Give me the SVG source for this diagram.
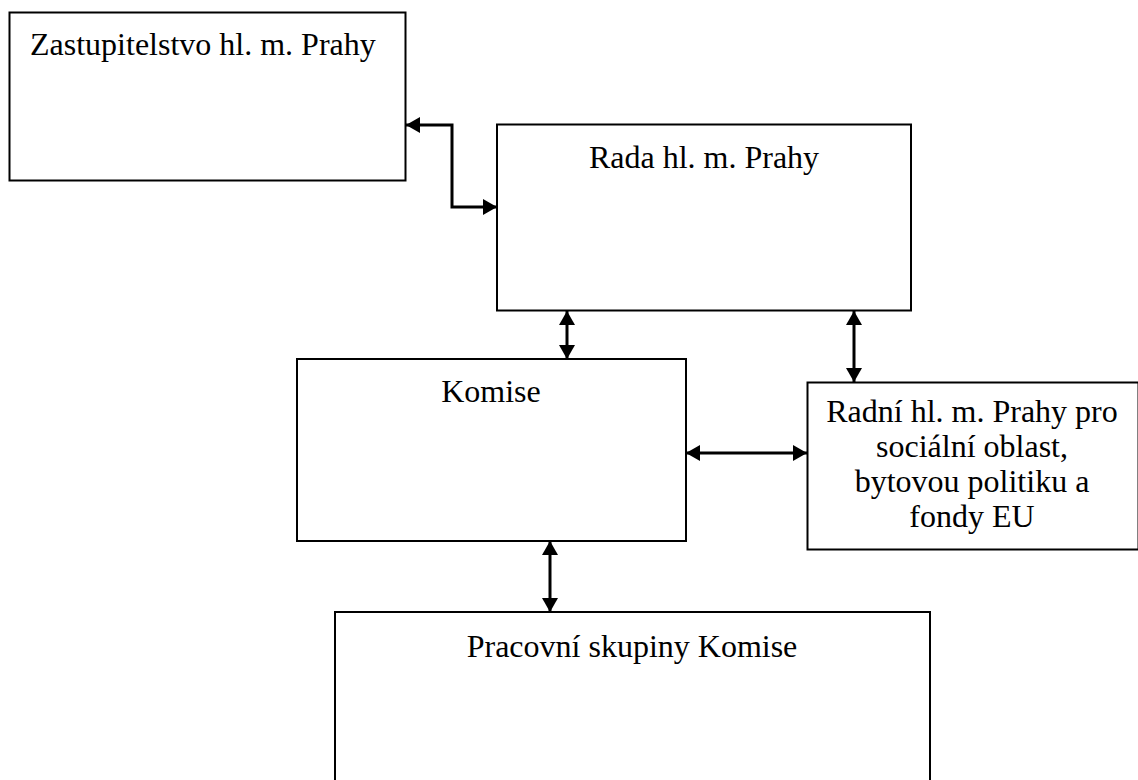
<svg xmlns="http://www.w3.org/2000/svg" width="1138" height="780" viewBox="0 0 1138 780">
<style>
.box{fill:#fff;stroke:#000;stroke-width:2}
.t{font-family:"Liberation Serif","Times New Roman",serif;font-size:32px;fill:#000}
.c{text-anchor:middle}
.ln{fill:none;stroke:#000;stroke-width:3}
</style>
<defs>
<marker id="ah" viewBox="0 0 14 16" refX="14" refY="8" markerWidth="14" markerHeight="16" markerUnits="userSpaceOnUse" orient="auto-start-reverse">
<path d="M0,0 L14,8 L0,16 Z" fill="#000"/>
</marker>
</defs>
<rect width="1138" height="780" fill="#fff"/>
<g id="zastupitelstvo"><rect class="box" x="9.5" y="12.5" width="396" height="168"/><text class="t" x="30" y="55">Zastupitelstvo hl. m. Prahy</text></g>
<g id="rada"><rect class="box" x="497" y="124.5" width="414" height="186"/><text class="t c" x="704" y="168">Rada hl. m. Prahy</text></g>
<g id="komise"><rect class="box" x="297" y="359" width="389" height="182"/><text class="t c" x="491" y="402">Komise</text></g>
<g id="radni"><rect class="box" x="807.5" y="382.5" width="331" height="167"/><text class="t c" x="972" y="422">Radní hl. m. Prahy pro</text><text class="t c" x="972" y="457">sociální oblast,</text><text class="t c" x="972" y="492">bytovou politiku a</text><text class="t c" x="972" y="527">fondy EU</text></g>
<g id="pracovni"><rect class="box" x="335" y="612" width="595" height="190"/><text class="t c" x="632" y="657">Pracovní skupiny Komise</text></g>
<g id="connectors">
<path class="ln" d="M406,125 L452,125 L452,207 L497,207" marker-start="url(#ah)" marker-end="url(#ah)"/>
<path class="ln" d="M567,311 L567,359" marker-start="url(#ah)" marker-end="url(#ah)"/>
<path class="ln" d="M854,311 L854,382" marker-start="url(#ah)" marker-end="url(#ah)"/>
<path class="ln" d="M686,453 L807,453" marker-start="url(#ah)" marker-end="url(#ah)"/>
<path class="ln" d="M550,541 L550,612" marker-start="url(#ah)" marker-end="url(#ah)"/>
</g>
</svg>
